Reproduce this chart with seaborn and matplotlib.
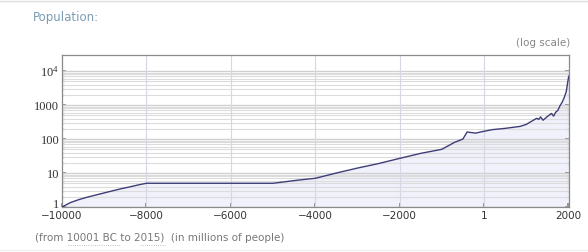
import matplotlib
matplotlib.use("Agg")
import matplotlib.pyplot as plt
import matplotlib.transforms as mtransforms
import seaborn as sns
import numpy as np
import pandas as pd
from matplotlib.ticker import FixedLocator, FixedFormatter, NullFormatter

years = [-10000, -9800, -9600, -9400, -9200, -9000, -8800, -8600, -8400, -8200,
         -8000, -5000, -4400, -4000, -3500, -3000,
         -2500, -2000, -1500, -1000, -700, -500, -400, -200, 1, 200, 500, 850,
         1000, 1100, 1250, 1300, 1340, 1400, 1500, 1600, 1650, 1700, 1750, 1800,
         1850, 1900, 1950, 1960, 1980, 2000, 2015]
population = [1, 1.35, 1.65, 1.95, 2.25, 2.6, 3.0, 3.45, 3.9, 4.45,
              5, 5, 6.2, 7, 10, 14,
              19, 27, 38, 50, 80, 100, 162, 150, 170, 190, 207, 236,
              270, 320, 410, 380, 450, 360, 460, 570, 475, 620, 700, 950,
              1200, 1650, 2500, 3000, 4400, 6100, 7300]

xticks = [-10000, -8000, -6000, -4000, -2000, 0, 2000]
xticklabels = ["\u221210000", "\u22128000", "\u22126000", "\u22124000", "\u22122000", "1", "2000"]
yticks = [1, 10, 100, 1000, 10000]
yticklabels = ["1", "10", "100", "1000", r"$\mathregular{10^4}$"]

df = pd.DataFrame({"year": years, "pop": population})

sns.set_theme(style="white")
plt.rcParams["font.family"] = ["DejaVu Sans"]

fig = plt.figure(figsize=(5.88, 2.52), dpi=100)
ax = fig.add_axes([62/588, 1-207/252, (569-62)/588, (207-55)/252])

ax.set_yscale("log")
ax.set_xlim(-10000, 2015)
ax.set_ylim(1, 30000)

# grid
minor_vals = [m * 10**d for d in range(0, 4) for m in range(2, 10)]
for v in minor_vals:
    ax.axhline(v, color="#dcdcdc", lw=0.8, zorder=1)
for v in yticks:
    ax.axhline(v, color="#d0d0d0", lw=1.0, zorder=1)
for v in xticks[1:-1]:
    ax.axvline(v, color="#d4d8e4", lw=0.8, zorder=1)

ax.fill_between(df["year"], 1, df["pop"], color="#f1f1fb", zorder=0.5, lw=0)
sns.lineplot(data=df, x="year", y="pop", ax=ax, color="#3d3d78", lw=1.0, zorder=3)

ax.set_xlabel("")
ax.set_ylabel("")
ax.xaxis.set_major_locator(FixedLocator(xticks))
ax.xaxis.set_major_formatter(FixedFormatter(xticklabels))
ax.yaxis.set_major_locator(FixedLocator(yticks))
ax.yaxis.set_major_formatter(FixedFormatter(yticklabels))
ax.yaxis.set_minor_locator(FixedLocator(minor_vals))
ax.yaxis.set_minor_formatter(NullFormatter())

ax.tick_params(axis="x", which="major", direction="in", length=3, color="#888888",
               labelsize=7.5, labelcolor="#333333", pad=3, top=False, bottom=True)
ax.tick_params(axis="y", which="major", direction="in", length=3, color="#888888",
               labelsize=9, labelcolor="#333333", pad=2, left=True, right=True)
ax.tick_params(axis="y", which="minor", direction="in", length=1.5, color="#999999",
               left=True, right=True)
for lab in ax.get_yticklabels():
    lab.set_family("Liberation Serif")

# nudge the "1" label up slightly so it clears the x tick label
offset = mtransforms.ScaledTranslation(0, 2.5/72, fig.dpi_scale_trans)
first = ax.yaxis.get_major_ticks()[0]
first.label1.set_transform(first.label1.get_transform() + offset)

for s in ax.spines.values():
    s.set_color("#8a8a8a")
    s.set_linewidth(0.9)

fig.text(33/588, 1-18/252, "Population:", color="#7b9db5", fontsize=8.5,
         va="center", ha="left")
fig.text(570/588, 1-43/252, "(log scale)", color="#888888", fontsize=7.5,
         va="center", ha="right")
fig.text(35/588, 1-238/252, "(from 10001 BC to 2015)  (in millions of people)",
         color="#777777", fontsize=7.5, va="center", ha="left")
# dotted underlines for linked terms
fig.add_artist(plt.Line2D([68/588, 121/588], [1-245/252]*2, color="#aaaaaa", lw=0.6, ls=":"))
fig.add_artist(plt.Line2D([140/588, 166/588], [1-245/252]*2, color="#aaaaaa", lw=0.6, ls=":"))
fig.add_artist(plt.Line2D([0, 1], [1-1/252]*2, color="#dddddd", lw=1.0))
fig.add_artist(plt.Line2D([0, 1], [1-250/252]*2, color="#f0f0f0", lw=1.0))

fig.savefig("out.png", dpi=100)
